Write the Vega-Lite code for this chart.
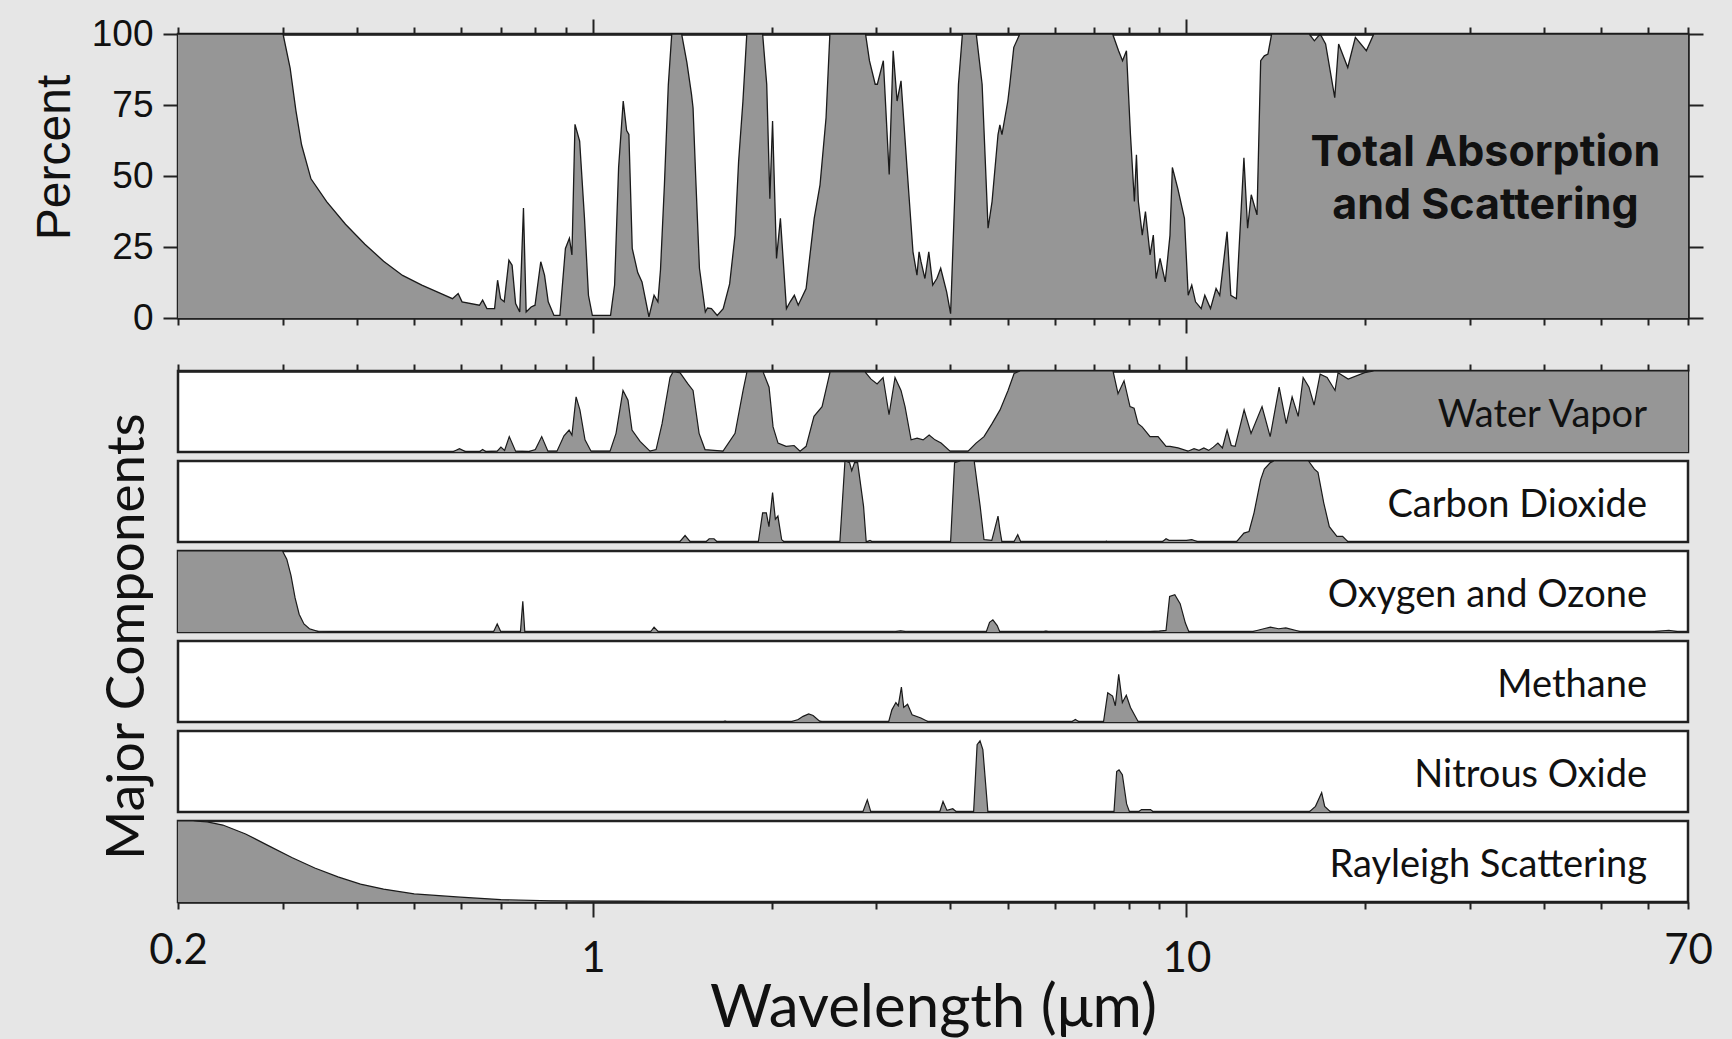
{
  "$schema": "https://vega.github.io/schema/vega-lite/v6.json",
  "background": "#e6e6e6",
  "padding": {"left": 30, "top": 13, "right": 20, "bottom": 0},
  "autosize": {"type": "pad"},
  "bounds": "flush",
  "spacing": 53,
  "config": {
    "view": {"stroke": "#222222", "strokeWidth": 2.5, "fill": "white"},
    "area": {"opacity": 1, "fillOpacity": 1},
    "axis": {"domainColor": "#222222", "domainWidth": 2.5, "tickColor": "#222222", "tickWidth": 2, "grid": false, "labelColor": "#111111", "titleColor": "#111111", "titleFontWeight": "normal", "labelFlush": false, "labelOverlap": false}
  },
  "datasets": {
    "total": [
      {"w":0.2,"v":100},{"w":0.3006,"v":100},{"w":0.309,"v":88},{"w":0.316,"v":73},{"w":0.323,"v":61},{"w":0.335,"v":49},{"w":0.356,"v":41},{"w":0.383,"v":33},{"w":0.413,"v":26},{"w":0.444,"v":20},{"w":0.478,"v":15},{"w":0.515,"v":11.6},{"w":0.555,"v":8.6},{"w":0.58,"v":6.8},{"w":0.593,"v":8.6},{"w":0.602,"v":5.7},{"w":0.644,"v":4.5},{"w":0.652,"v":6.3},{"w":0.663,"v":3.3},{"w":0.683,"v":3.3},{"w":0.691,"v":13.3},{"w":0.699,"v":6.8},{"w":0.709,"v":5.7},{"w":0.722,"v":20.4},{"w":0.731,"v":18.6},{"w":0.741,"v":5.1},{"w":0.753,"v":2.1},{"w":0.764,"v":38.7},{"w":0.772,"v":2.1},{"w":0.787,"v":3.9},{"w":0.799,"v":4.5},{"w":0.817,"v":19.8},{"w":0.829,"v":15.1},{"w":0.841,"v":5.7},{"w":0.86,"v":0.9},{"w":0.88,"v":0.9},{"w":0.899,"v":24.5},{"w":0.913,"v":28.1},{"w":0.922,"v":22.2},{"w":0.933,"v":68.2},{"w":0.95,"v":62.3},{"w":0.968,"v":35.1},{"w":0.983,"v":8},{"w":0.998,"v":0.9},{"w":1.071,"v":0.9},{"w":1.088,"v":11.6},{"w":1.105,"v":53},{"w":1.125,"v":76.4},{"w":1.14,"v":66},{"w":1.15,"v":64.6},{"w":1.165,"v":24.5},{"w":1.19,"v":16},{"w":1.21,"v":12.7},{"w":1.243,"v":0.4},{"w":1.268,"v":8},{"w":1.287,"v":5.7},{"w":1.3,"v":17},{"w":1.32,"v":47},{"w":1.34,"v":82},{"w":1.358,"v":100},{"w":1.411,"v":100},{"w":1.44,"v":90},{"w":1.466,"v":78.8},{"w":1.475,"v":74},{"w":1.49,"v":50},{"w":1.512,"v":17.5},{"w":1.547,"v":2.1},{"w":1.56,"v":3.5},{"w":1.584,"v":3.3},{"w":1.62,"v":0.9},{"w":1.658,"v":3.3},{"w":1.7,"v":12},{"w":1.736,"v":29.2},{"w":1.76,"v":55},{"w":1.79,"v":76.4},{"w":1.817,"v":100},{"w":1.932,"v":100},{"w":1.963,"v":82.3},{"w":1.987,"v":42},{"w":2.008,"v":69.4},{"w":2.039,"v":21},{"w":2.07,"v":35.1},{"w":2.119,"v":3.3},{"w":2.15,"v":5.7},{"w":2.185,"v":8},{"w":2.218,"v":4.5},{"w":2.287,"v":10.4},{"w":2.36,"v":35.1},{"w":2.414,"v":46.9},{"w":2.471,"v":70.5},{"w":2.508,"v":100},{"w":2.88,"v":100},{"w":2.924,"v":90.6},{"w":2.99,"v":82.3},{"w":3.015,"v":82.3},{"w":3.086,"v":90.6},{"w":3.157,"v":50.5},{"w":3.206,"v":94.1},{"w":3.255,"v":76.4},{"w":3.305,"v":83.5},{"w":3.383,"v":52.8},{"w":3.462,"v":23.3},{"w":3.516,"v":15.1},{"w":3.545,"v":23.3},{"w":3.57,"v":20},{"w":3.626,"v":13.9},{"w":3.681,"v":23.3},{"w":3.738,"v":11.6},{"w":3.8,"v":14},{"w":3.855,"v":17.5},{"w":3.945,"v":9.2},{"w":4.006,"v":1.5},{"w":4.068,"v":41},{"w":4.13,"v":82.3},{"w":4.194,"v":100},{"w":4.425,"v":100},{"w":4.527,"v":82.3},{"w":4.633,"v":31.6},{"w":4.705,"v":41},{"w":4.815,"v":64.6},{"w":4.85,"v":68},{"w":4.889,"v":64.6},{"w":5.002,"v":76.4},{"w":5.041,"v":82.3},{"w":5.119,"v":95.3},{"w":5.24,"v":100},{"w":7.511,"v":100},{"w":7.686,"v":94.1},{"w":7.806,"v":90.6},{"w":7.925,"v":94.1},{"w":8.049,"v":64.6},{"w":8.173,"v":41},{"w":8.238,"v":57.5},{"w":8.299,"v":41},{"w":8.426,"v":29.2},{"w":8.531,"v":37.5},{"w":8.686,"v":22.2},{"w":8.795,"v":29.2},{"w":8.892,"v":13.9},{"w":9.028,"v":21},{"w":9.213,"v":12.7},{"w":9.382,"v":29},{"w":9.47,"v":53},{"w":9.674,"v":45.5},{"w":9.924,"v":35.1},{"w":10.07,"v":8},{"w":10.21,"v":11.6},{"w":10.36,"v":5.7},{"w":10.59,"v":3.3},{"w":10.74,"v":8},{"w":10.98,"v":3.3},{"w":11.22,"v":10.4},{"w":11.38,"v":8},{"w":11.71,"v":30.4},{"w":11.88,"v":8},{"w":12.14,"v":6.8},{"w":12.5,"v":56.4},{"w":12.68,"v":31.6},{"w":12.86,"v":43.4},{"w":13.15,"v":36.3},{"w":13.34,"v":90.6},{"w":13.53,"v":92.3},{"w":13.72,"v":92.9},{"w":13.92,"v":100},{"w":16.1,"v":100},{"w":16.43,"v":97.6},{"w":16.8,"v":100},{"w":17.16,"v":96.5},{"w":17.78,"v":77.6},{"w":18.05,"v":96.5},{"w":18.7,"v":88.2},{"w":19.26,"v":98.8},{"w":20.1,"v":94.1},{"w":20.69,"v":100},{"w":70,"v":100}
    ],
    "wv": [
      {"w":0.2,"v":0},{"w":0.58,"v":0},{"w":0.596,"v":4},{"w":0.61,"v":0.5},{"w":0.645,"v":0.5},{"w":0.652,"v":3},{"w":0.66,"v":0.5},{"w":0.69,"v":1},{"w":0.7,"v":6},{"w":0.71,"v":2},{"w":0.723,"v":19},{"w":0.741,"v":1},{"w":0.78,"v":0.5},{"w":0.8,"v":3},{"w":0.82,"v":19},{"w":0.84,"v":1},{"w":0.87,"v":1},{"w":0.894,"v":20},{"w":0.912,"v":27},{"w":0.922,"v":21},{"w":0.937,"v":68},{"w":0.951,"v":52},{"w":0.97,"v":15},{"w":0.993,"v":1},{"w":1.069,"v":1},{"w":1.094,"v":23},{"w":1.124,"v":76},{"w":1.146,"v":64},{"w":1.164,"v":27},{"w":1.201,"v":13},{"w":1.248,"v":1},{"w":1.278,"v":3},{"w":1.308,"v":35},{"w":1.349,"v":92},{"w":1.365,"v":99},{"w":1.402,"v":98},{"w":1.446,"v":84},{"w":1.475,"v":76},{"w":1.51,"v":23},{"w":1.545,"v":3},{"w":1.657,"v":1},{"w":1.736,"v":23},{"w":1.791,"v":76},{"w":1.818,"v":99},{"w":1.935,"v":99},{"w":1.981,"v":80},{"w":2.012,"v":31},{"w":2.051,"v":11},{"w":2.116,"v":7},{"w":2.183,"v":8},{"w":2.234,"v":1},{"w":2.287,"v":7},{"w":2.358,"v":44},{"w":2.433,"v":56},{"w":2.51,"v":99},{"w":2.874,"v":99},{"w":2.942,"v":90},{"w":3.012,"v":84},{"w":3.083,"v":92},{"w":3.155,"v":46},{"w":3.229,"v":92},{"w":3.305,"v":76},{"w":3.357,"v":56},{"w":3.437,"v":15},{"w":3.518,"v":17},{"w":3.601,"v":15},{"w":3.686,"v":21},{"w":3.771,"v":15},{"w":3.861,"v":11},{"w":3.998,"v":1},{"w":4.287,"v":1},{"w":4.422,"v":11},{"w":4.56,"v":19},{"w":4.705,"v":35},{"w":4.853,"v":52},{"w":5.006,"v":76},{"w":5.125,"v":97},{"w":5.247,"v":100},{"w":7.523,"v":100},{"w":7.67,"v":72},{"w":7.851,"v":88},{"w":8.035,"v":56},{"w":8.163,"v":54},{"w":8.291,"v":35},{"w":8.422,"v":31},{"w":8.685,"v":19},{"w":8.959,"v":19},{"w":9.242,"v":7},{"w":9.385,"v":7},{"w":9.681,"v":5},{"w":10.06,"v":1},{"w":10.3,"v":4},{"w":10.5,"v":2},{"w":10.7,"v":5},{"w":10.9,"v":2},{"w":11.1,"v":6},{"w":11.3,"v":11},{"w":11.5,"v":5},{"w":11.71,"v":27},{"w":11.9,"v":8},{"w":12.08,"v":7},{"w":12.51,"v":52},{"w":12.85,"v":23},{"w":13.41,"v":56},{"w":13.84,"v":19},{"w":14.33,"v":80},{"w":14.73,"v":35},{"w":15.07,"v":68},{"w":15.43,"v":44},{"w":15.73,"v":92},{"w":16.09,"v":80},{"w":16.41,"v":58},{"w":16.8,"v":96},{"w":17.26,"v":92},{"w":17.8,"v":76},{"w":18.01,"v":98},{"w":18.73,"v":90},{"w":19.97,"v":98},{"w":20.71,"v":100},{"w":70,"v":100}
    ],
    "co2": [
      {"w":0.2,"v":0},{"w":1.4,"v":0},{"w":1.43,"v":8},{"w":1.46,"v":0},{"w":1.55,"v":0},{"w":1.57,"v":4},{"w":1.6,"v":4},{"w":1.62,"v":0},{"w":1.9,"v":0},{"w":1.932,"v":36},{"w":1.96,"v":36},{"w":1.98,"v":19},{"w":2.008,"v":61},{"w":2.03,"v":28},{"w":2.05,"v":32},{"w":2.08,"v":3},{"w":2.1,"v":0},{"w":2.607,"v":0},{"w":2.659,"v":100},{"w":2.707,"v":98},{"w":2.73,"v":88},{"w":2.76,"v":98},{"w":2.793,"v":98},{"w":2.858,"v":44},{"w":2.888,"v":0},{"w":2.93,"v":2},{"w":2.96,"v":0},{"w":4.006,"v":0},{"w":4.068,"v":98},{"w":4.163,"v":100},{"w":4.39,"v":100},{"w":4.493,"v":44},{"w":4.56,"v":3},{"w":4.7,"v":2},{"w":4.75,"v":15},{"w":4.815,"v":32},{"w":4.85,"v":15},{"w":4.889,"v":0},{"w":5.12,"v":0},{"w":5.198,"v":9},{"w":5.26,"v":0},{"w":7.3,"v":0},{"w":7.33,"v":1},{"w":7.36,"v":0},{"w":9.1,"v":0},{"w":9.24,"v":4},{"w":9.35,"v":2},{"w":9.5,"v":2},{"w":10,"v":2},{"w":10.21,"v":3},{"w":10.49,"v":0},{"w":12.14,"v":0},{"w":12.5,"v":11},{"w":12.75,"v":13},{"w":13,"v":36},{"w":13.34,"v":77},{"w":13.53,"v":90},{"w":13.85,"v":98},{"w":14.04,"v":100},{"w":16.06,"v":100},{"w":16.43,"v":90},{"w":16.66,"v":86},{"w":17.04,"v":48},{"w":17.41,"v":19},{"w":17.93,"v":7},{"w":18.33,"v":7},{"w":18.73,"v":0},{"w":70,"v":0}
    ],
    "o2": [
      {"w":0.2,"v":100},{"w":0.3,"v":100},{"w":0.305,"v":90},{"w":0.31,"v":70},{"w":0.315,"v":42},{"w":0.32,"v":22},{"w":0.326,"v":10},{"w":0.333,"v":4},{"w":0.345,"v":0.5},{"w":0.36,"v":0},{"w":0.68,"v":0},{"w":0.69,"v":10},{"w":0.7,"v":0},{"w":0.755,"v":0},{"w":0.762,"v":38},{"w":0.768,"v":0},{"w":1.25,"v":0},{"w":1.268,"v":6},{"w":1.29,"v":0},{"w":3.2,"v":0},{"w":3.3,"v":1.5},{"w":3.4,"v":0},{"w":4.6,"v":0},{"w":4.66,"v":12},{"w":4.72,"v":15},{"w":4.8,"v":8},{"w":4.85,"v":0},{"w":5.7,"v":0},{"w":5.8,"v":1},{"w":5.9,"v":0},{"w":8.4,"v":0},{"w":9,"v":1},{"w":9.24,"v":2},{"w":9.37,"v":44},{"w":9.56,"v":46},{"w":9.76,"v":35},{"w":9.96,"v":11},{"w":10.1,"v":0},{"w":12.85,"v":0},{"w":13.5,"v":4},{"w":13.85,"v":6},{"w":14.3,"v":4},{"w":14.71,"v":5},{"w":15.65,"v":0},{"w":60,"v":0},{"w":65,"v":2},{"w":68,"v":0},{"w":70,"v":0}
    ],
    "ch4": [
      {"w":0.2,"v":0},{"w":1.65,"v":0},{"w":1.67,"v":1},{"w":1.69,"v":0},{"w":2.15,"v":0},{"w":2.218,"v":3},{"w":2.26,"v":7},{"w":2.31,"v":10},{"w":2.35,"v":8},{"w":2.41,"v":1},{"w":2.45,"v":0},{"w":3.15,"v":0},{"w":3.19,"v":15},{"w":3.24,"v":24},{"w":3.27,"v":20},{"w":3.31,"v":43},{"w":3.34,"v":18},{"w":3.39,"v":22},{"w":3.45,"v":9},{"w":3.57,"v":5},{"w":3.68,"v":0},{"w":6.4,"v":0},{"w":6.5,"v":3},{"w":6.6,"v":0},{"w":7.25,"v":0},{"w":7.37,"v":36},{"w":7.51,"v":32},{"w":7.59,"v":20},{"w":7.69,"v":59},{"w":7.8,"v":24},{"w":7.92,"v":33},{"w":8.05,"v":18},{"w":8.3,"v":0},{"w":70,"v":0}
    ],
    "n2o": [
      {"w":0.2,"v":0},{"w":2.85,"v":0},{"w":2.9,"v":15},{"w":2.94,"v":0},{"w":3.84,"v":0},{"w":3.89,"v":13},{"w":3.95,"v":2},{"w":4.04,"v":4},{"w":4.1,"v":0},{"w":4.38,"v":0},{"w":4.44,"v":83},{"w":4.49,"v":88},{"w":4.54,"v":77},{"w":4.63,"v":0},{"w":7.55,"v":0},{"w":7.63,"v":50},{"w":7.7,"v":52},{"w":7.8,"v":46},{"w":7.93,"v":10},{"w":8.02,"v":0},{"w":8.3,"v":0},{"w":8.4,"v":3},{"w":8.7,"v":3},{"w":8.8,"v":0},{"w":16.1,"v":0},{"w":16.5,"v":7},{"w":16.9,"v":24},{"w":17.1,"v":7},{"w":17.5,"v":0},{"w":70,"v":0}
    ],
    "ray": [
      {"w":0.2,"v":100},{"w":0.212,"v":100},{"w":0.224,"v":99},{"w":0.238,"v":95},{"w":0.26,"v":84},{"w":0.285,"v":69},{"w":0.311,"v":55},{"w":0.34,"v":42},{"w":0.372,"v":31},{"w":0.406,"v":22},{"w":0.444,"v":16},{"w":0.5,"v":10},{"w":0.598,"v":6},{"w":0.7,"v":3},{"w":0.85,"v":1.5},{"w":0.99,"v":1},{"w":1.5,"v":0.5},{"w":3,"v":0},{"w":70,"v":0}
    ]
  },
  "vconcat": [
    {
      "width": 1510,
      "height": 284,
      "layer": [
        {
          "data": {"name": "total"},
          "mark": {"type": "area", "color": "#969696", "opacity": 1},
          "encoding": {
            "x": {"field": "w", "type": "quantitative", "scale": {"type": "log", "domain": [0.2, 70], "nice": false},
              "axis": {"orient": "bottom", "values": [0.2,0.3,0.4,0.5,0.6,0.7,0.8,0.9,1,2,3,4,5,6,7,8,9,10,20,30,40,50,60,70], "labels": false, "title": null,
                "tickSize": {"condition": {"test": "datum.value === 1 || datum.value === 10", "value": 15}, "value": 7}}},
            "y": {"field": "v", "type": "quantitative", "scale": {"domain": [0, 100], "nice": false},
              "axis": {"orient": "left", "values": [0,25,50,75,100], "tickSize": 15, "labelFont": "Liberation Sans", "labelFontSize": 37, "labelPadding": 10, "title": "Percent", "titleFont": "Liberation Sans", "titleFontSize": 48, "titlePadding": 12, "titleY": 123}}
          }
        },
        {
          "data": {"name": "total"},
          "mark": {"type": "line", "color": "#1a1a1a", "strokeWidth": 1.3},
          "encoding": {
            "x": {"field": "w", "type": "quantitative", "scale": {"type": "log", "domain": [0.2, 70], "nice": false},
              "axis": {"orient": "top", "values": [0.2,0.3,0.4,0.5,0.6,0.7,0.8,0.9,1,2,3,4,5,6,7,8,9,10,20,30,40,50,60,70], "labels": false, "title": null,
                "tickSize": {"condition": {"test": "datum.value === 1 || datum.value === 10", "value": 15}, "value": 7}}},
            "y": {"field": "v", "type": "quantitative", "scale": {"domain": [0, 100], "nice": false},
              "axis": {"orient": "right", "values": [0,25,50,75,100], "tickSize": 15, "labels": false, "title": null}}
          }
        },
        {
          "data": {"values": [{}]},
          "mark": {"type": "text", "text": ["Total Absorption", "and Scattering"], "font": "Inter", "fontWeight": "bold", "fontSize": 43, "lineHeight": 53, "align": "center", "baseline": "middle", "color": "#111111"},
          "encoding": {
            "x": {"datum": 31.9, "type": "quantitative", "scale": {"type": "log", "domain": [0.2, 70], "nice": false}, "axis": null},
            "y": {"datum": 58, "type": "quantitative", "scale": {"domain": [0, 100], "nice": false}, "axis": null}
          }
        }
      ],
      "resolve": {"axis": {"x": "independent", "y": "independent"}}
    },
    {
      "spacing": 9,
      "bounds": "flush",
      "vconcat": [
        {
          "width": 1510, "height": 81,
          "layer": [
            {"data": {"name": "wv"}, "mark": {"type": "area", "color": "#969696", "opacity": 1, "line": {"color": "#1a1a1a", "strokeWidth": 1.2}},
              "encoding": {
                "x": {"field": "w", "type": "quantitative", "scale": {"type": "log", "domain": [0.2, 70], "nice": false},
                  "axis": {"orient": "top", "values": [0.2,0.3,0.4,0.5,0.6,0.7,0.8,0.9,1,2,3,4,5,6,7,8,9,10,20,30,40,50,60,70], "labels": false, "title": null,
                    "tickSize": {"condition": {"test": "datum.value === 1 || datum.value === 10", "value": 15}, "value": 7}}},
                "y": {"field": "v", "type": "quantitative", "scale": {"domain": [0, 100], "nice": false}, "axis": null}}},
            {"data": {"values": [{}]}, "mark": {"type": "text", "text": "Water Vapor", "font": "Lato", "fontSize": 38, "align": "right", "baseline": "middle", "color": "#111111"},
              "encoding": {"x": {"datum": 59.7, "type": "quantitative", "axis": null}, "y": {"datum": 44.5, "type": "quantitative", "axis": null}}}
          ],
          "resolve": {"axis": {"x": "independent", "y": "independent"}}
        },
        {
          "width": 1510, "height": 81,
          "layer": [
            {"data": {"name": "co2"}, "mark": {"type": "area", "color": "#969696", "opacity": 1, "line": {"color": "#1a1a1a", "strokeWidth": 1.2}},
              "encoding": {
                "x": {"field": "w", "type": "quantitative", "scale": {"type": "log", "domain": [0.2, 70], "nice": false}, "axis": null},
                "y": {"field": "v", "type": "quantitative", "scale": {"domain": [0, 100], "nice": false}, "axis": null}}},
            {"data": {"values": [{}]}, "mark": {"type": "text", "text": "Carbon Dioxide", "font": "Lato", "fontSize": 38, "align": "right", "baseline": "middle", "color": "#111111"},
              "encoding": {"x": {"datum": 59.7, "type": "quantitative", "axis": null}, "y": {"datum": 44.5, "type": "quantitative", "axis": null}}}
          ],
          "resolve": {"axis": {"x": "independent", "y": "independent"}}
        },
        {
          "width": 1510, "height": 81,
          "layer": [
            {"data": {"name": "o2"}, "mark": {"type": "area", "color": "#969696", "opacity": 1, "line": {"color": "#1a1a1a", "strokeWidth": 1.2}},
              "encoding": {
                "x": {"field": "w", "type": "quantitative", "scale": {"type": "log", "domain": [0.2, 70], "nice": false}, "axis": null},
                "y": {"field": "v", "type": "quantitative", "scale": {"domain": [0, 100], "nice": false},
                  "axis": {"orient": "left", "labels": false, "ticks": false, "domain": false, "title": "Major Components", "titleFont": "Lato", "titleFontSize": 53, "titlePadding": 24, "titleY": 85}}}},
            {"data": {"values": [{}]}, "mark": {"type": "text", "text": "Oxygen and Ozone", "font": "Lato", "fontSize": 38, "align": "right", "baseline": "middle", "color": "#111111"},
              "encoding": {"x": {"datum": 59.7, "type": "quantitative", "axis": null}, "y": {"datum": 44.5, "type": "quantitative", "axis": null}}}
          ],
          "resolve": {"axis": {"x": "independent", "y": "independent"}}
        },
        {
          "width": 1510, "height": 81,
          "layer": [
            {"data": {"name": "ch4"}, "mark": {"type": "area", "color": "#969696", "opacity": 1, "line": {"color": "#1a1a1a", "strokeWidth": 1.2}},
              "encoding": {
                "x": {"field": "w", "type": "quantitative", "scale": {"type": "log", "domain": [0.2, 70], "nice": false}, "axis": null},
                "y": {"field": "v", "type": "quantitative", "scale": {"domain": [0, 100], "nice": false}, "axis": null}}},
            {"data": {"values": [{}]}, "mark": {"type": "text", "text": "Methane", "font": "Lato", "fontSize": 38, "align": "right", "baseline": "middle", "color": "#111111"},
              "encoding": {"x": {"datum": 59.7, "type": "quantitative", "axis": null}, "y": {"datum": 44.5, "type": "quantitative", "axis": null}}}
          ],
          "resolve": {"axis": {"x": "independent", "y": "independent"}}
        },
        {
          "width": 1510, "height": 81,
          "layer": [
            {"data": {"name": "n2o"}, "mark": {"type": "area", "color": "#969696", "opacity": 1, "line": {"color": "#1a1a1a", "strokeWidth": 1.2}},
              "encoding": {
                "x": {"field": "w", "type": "quantitative", "scale": {"type": "log", "domain": [0.2, 70], "nice": false}, "axis": null},
                "y": {"field": "v", "type": "quantitative", "scale": {"domain": [0, 100], "nice": false}, "axis": null}}},
            {"data": {"values": [{}]}, "mark": {"type": "text", "text": "Nitrous Oxide", "font": "Lato", "fontSize": 38, "align": "right", "baseline": "middle", "color": "#111111"},
              "encoding": {"x": {"datum": 59.7, "type": "quantitative", "axis": null}, "y": {"datum": 44.5, "type": "quantitative", "axis": null}}}
          ],
          "resolve": {"axis": {"x": "independent", "y": "independent"}}
        },
        {
          "width": 1510, "height": 81,
          "layer": [
            {"data": {"name": "ray"}, "mark": {"type": "area", "color": "#969696", "opacity": 1, "line": {"color": "#1a1a1a", "strokeWidth": 1.2}},
              "encoding": {
                "x": {"field": "w", "type": "quantitative", "scale": {"type": "log", "domain": [0.2, 70], "nice": false},
                  "axis": {"orient": "bottom", "values": [0.2,0.3,0.4,0.5,0.6,0.7,0.8,0.9,1,2,3,4,5,6,7,8,9,10,20,30,40,50,60,70],
                    "labelExpr": "datum.value === 0.2 ? '0.2' : datum.value === 1 ? '1' : datum.value === 10 ? '10' : datum.value === 70 ? '70' : ''",
                    "labelFont": "Lato", "labelFontSize": 42, "labelPadding": 21,
                    "tickSize": {"condition": {"test": "datum.value === 1 || datum.value === 10", "value": 15}, "value": 7},
                    "title": "Wavelength (μm)", "titleFont": "Lato", "titleFontSize": 60, "titlePadding": 0}},
                "y": {"field": "v", "type": "quantitative", "scale": {"domain": [0, 100], "nice": false}, "axis": null}}},
            {"data": {"values": [{}]}, "mark": {"type": "text", "text": "Rayleigh Scattering", "font": "Lato", "fontSize": 38, "align": "right", "baseline": "middle", "color": "#111111"},
              "encoding": {"x": {"datum": 59.7, "type": "quantitative", "axis": null}, "y": {"datum": 44.5, "type": "quantitative", "axis": null}}}
          ],
          "resolve": {"axis": {"x": "independent", "y": "independent"}}
        }
      ]
    }
  ]
}
